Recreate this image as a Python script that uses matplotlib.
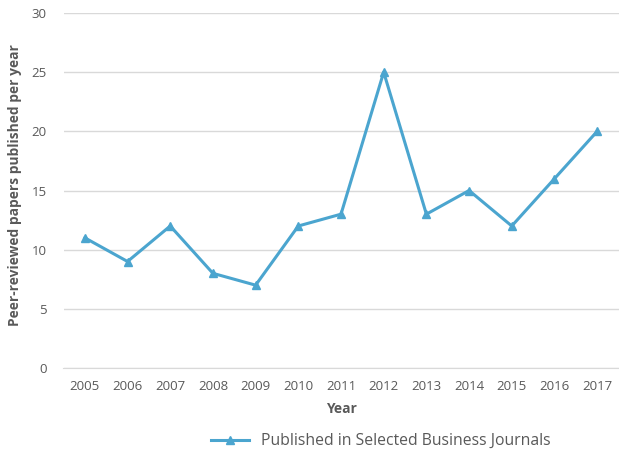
import matplotlib
matplotlib.use("Agg")
import matplotlib.pyplot as plt

years = ["2005", "2006", "2007", "2008", "2009", "2010", "2011", "2012", "2013", "2014", "2015", "2016", "2017"]
papers = [11, 9, 12, 8, 7, 12, 13, 25, 13, 15, 12, 16, 20]
y_ticks = [0, 5, 10, 15, 20, 25, 30]

plt.rcParams['font.family'] = ['Open Sans', 'DejaVu Sans']

W, H = 619, 454
fig = plt.figure(figsize=(W/100, H/100), dpi=100)
ax = fig.add_axes([63.5/W, 1-368/H, (618.5-63.5)/W, (368-13)/H])

x = list(range(len(years)))
line_color = "#4BA5CF"
ax.plot(x, papers, color=line_color, lw=2.2, marker="^", markersize=6,
        markerfacecolor=line_color, markeredgecolor=line_color,
        label="Published in Selected Business Journals")

ax.set_xlim(-0.5, len(years)-0.5)
ax.set_ylim(0, 30)
ax.set_yticks(y_ticks)
ax.set_xticks(x)
ax.set_xticklabels(years)
ax.grid(axis="y", color="#D9D9D9", lw=1)
ax.set_axisbelow(True)
for s in ["top", "right", "left"]:
    ax.spines[s].set_visible(False)
ax.spines["bottom"].set_color("#D9D9D9")
ax.tick_params(axis="both", length=0, labelsize=9.5, colors="#595959")
ax.tick_params(axis="x", pad=9)
ax.tick_params(axis="y", pad=12)

ax.set_xlabel("Year", fontsize=10, fontweight="bold", color="#595959", labelpad=6)
ax.set_ylabel("Peer-reviewed papers published per year", fontsize=9.9, fontweight="bold", color="#595959")
ax.yaxis.set_label_coords(-(63.5-22)/(618.5-63.5), (368-185)/355)

leg = fig.legend(loc="center", bbox_to_anchor=(381/W, 1-441/H), frameon=False,
                 fontsize=11.3, labelcolor="#595959", handlelength=2.4, markerscale=0.85)

fig.savefig("out.png", dpi=100)
